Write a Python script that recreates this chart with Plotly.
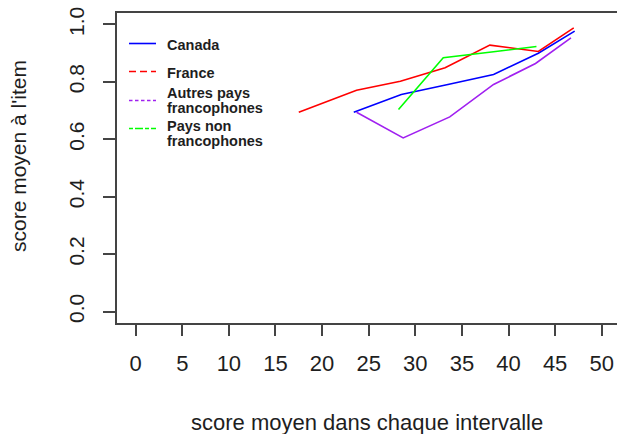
import plotly.graph_objects as go

# Mean item score per score interval, by group
canada_x = [23.4, 28.5, 33.5, 38.4, 43.2, 47.1]
canada_y = [0.694, 0.756, 0.791, 0.826, 0.900, 0.977]

france_x = [17.5, 23.7, 28.4, 33.2, 38.0, 43.2, 47.0]
france_y = [0.694, 0.771, 0.802, 0.849, 0.928, 0.906, 0.988]

autres_x = [23.7, 28.7, 33.7, 38.4, 42.9, 46.7]
autres_y = [0.694, 0.605, 0.678, 0.791, 0.864, 0.953]

nonfr_x = [28.2, 33.0, 38.4, 43.0]
nonfr_y = [0.704, 0.884, 0.905, 0.923]

x_ticks = [0, 5, 10, 15, 20, 25, 30, 35, 40, 45, 50]
y_ticks = [0.0, 0.2, 0.4, 0.6, 0.8, 1.0]

series = [
    ("Canada", canada_x, canada_y, "#0000FF", "solid"),
    ("France", france_x, france_y, "#FF0000", "7px,4px"),
    ("Autres pays<br>francophones", autres_x, autres_y, "#A020F0", "3.5px,2.5px"),
    ("Pays non<br>francophones", nonfr_x, nonfr_y, "#00FF00", "4px,2px,8px,2px"),
]

FONT = "Liberation Sans, Arial, sans-serif"
INK = "#1e1e1e"
AXIS = "#444444"

fig = go.Figure()
for name, xs, ys, color, _ in series:
    fig.add_trace(go.Scatter(x=xs, y=ys, mode="lines", name=name,
                             line=dict(color=color, width=1.6),
                             showlegend=False))

# Legend box drawn by hand (key samples + labels), top-left of the panel
W, H, L, T = 500, 310, 117, 13
def px(xp):
    return (xp - L) / W
def py(yp):
    return (T + H - yp) / H

key_rows = [43.5, 71.5, 100.5, 128.5]
label_rows = [[45.0], [73.0], [92.5, 108.0], [125.5, 141.0]]
shapes, annotations = [], []
for (name, _, _, color, dash), ky, rows in zip(series, key_rows, label_rows):
    shapes.append(dict(type="line", xref="paper", yref="paper",
                       x0=px(129), x1=px(156), y0=py(ky), y1=py(ky),
                       line=dict(color=color, width=1.6, dash=dash)))
    for txt, ly in zip(name.split("<br>"), rows):
        annotations.append(dict(text="<b>" + txt + "</b>", xref="paper", yref="paper",
                                x=px(166), y=py(ly), xanchor="left", yanchor="middle",
                                showarrow=False, borderpad=0,
                                font=dict(family=FONT, size=14.5, color=INK)))

annotations.append(dict(text="score moyen à l'item", xref="paper", yref="paper",
                        x=px(18), y=py(156), textangle=-90, showarrow=False,
                        xanchor="center", yanchor="middle",
                        font=dict(family=FONT, size=21, color=INK)))
annotations.append(dict(text="score moyen dans chaque intervalle", xref="paper", yref="paper",
                        x=0.5, y=py(422), showarrow=False,
                        xanchor="center", yanchor="middle",
                        font=dict(family=FONT, size=22, color=INK)))

fig.update_layout(
    width=617, height=434,
    margin=dict(l=L, r=617 - L - W, t=T, b=434 - T - H),
    paper_bgcolor="white", plot_bgcolor="white",
    shapes=shapes, annotations=annotations,
    showlegend=False,
    xaxis=dict(range=[-2.0, 51.64], tickvals=x_ticks,
               ticktext=[str(v) for v in x_ticks],
               showgrid=False, zeroline=False,
               showline=True, mirror=True, linecolor=AXIS, linewidth=1.5,
               ticks="outside", ticklen=11, tickwidth=1.5, tickcolor=AXIS,
               ticklabelstandoff=9,
               tickfont=dict(family=FONT, size=22, color=INK)),
    yaxis=dict(range=[-0.04, 1.04], tickvals=y_ticks,
               ticktext=[f"{v:.1f}" for v in y_ticks],
               showgrid=False, zeroline=False,
               showline=True, linecolor=AXIS, linewidth=1.5,
               ticks="outside", ticklen=12, tickwidth=1.5, tickcolor=AXIS,
               tickangle=-90, ticklabelstandoff=11,
               tickfont=dict(family=FONT, size=21, color=INK)),
)

fig.write_html("out.html")
